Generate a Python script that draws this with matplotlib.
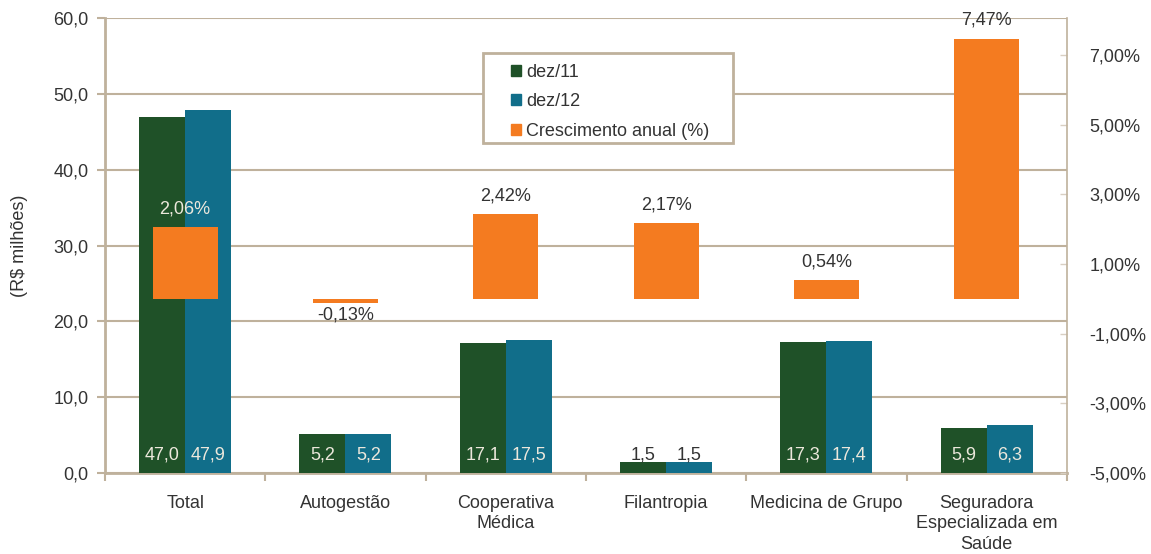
import numpy as np
import matplotlib.pyplot as plt
from matplotlib.patches import Patch, Rectangle
from matplotlib.ticker import FuncFormatter, FixedLocator

plt.rcParams['font.family'] = ['Liberation Sans', 'DejaVu Sans']
plt.rcParams['font.size'] = 13

categorias = ['Total', 'Autogestão', 'Cooperativa\nMédica', 'Filantropia',
              'Medicina de Grupo', 'Seguradora\nEspecializada em\nSaúde']
dez11 = [47.0, 5.2, 17.1, 1.5, 17.3, 5.9]
dez12 = [47.9, 5.2, 17.5, 1.5, 17.4, 6.3]
crescimento = [2.06, -0.13, 2.42, 2.17, 0.54, 7.47]

VERDE = '#1f5128'
AZUL = '#116e8a'
LARANJA = '#f47b20'
BEGE = '#bfb19c'
TEXTO = '#333333'
CLARO = '#ece8dc'

def virgula(v, casas):
    return f'{v:.{casas}f}'.replace('.', ',')

fig = plt.figure(figsize=(11.51, 5.54), dpi=100)
ax = fig.add_axes([0.0912, 0.1462, 0.8358, 0.8213])
ax2 = ax.twinx()

x = np.arange(len(categorias))
w = 0.287

b1 = ax.bar(x - w / 2, dez11, w, color=VERDE, zorder=3)
b2 = ax.bar(x + w / 2, dez12, w, color=AZUL, zorder=3)

for barras, vals in ((b1, dez11), (b2, dez12)):
    for r, v in zip(barras, vals):
        cor = CLARO if v > 3 else TEXTO
        ax.annotate(virgula(v, 1), (r.get_x() + r.get_width() / 2, 0),
                    xytext=(0, 7), textcoords='offset points',
                    ha='center', va='bottom', color=cor, fontsize=13, zorder=4)

ax.set_ylim(0, 60)
ax.set_xlim(-0.5, len(categorias) - 0.5)
ax.set_yticks(np.arange(0, 61, 10))
ax.yaxis.set_major_formatter(FuncFormatter(lambda v, p: virgula(v, 1)))
ax.grid(axis='y', color=BEGE, lw=1.5, zorder=0)
ax.set_axisbelow(True)

ax.set_xticks(x)
ax.set_xticklabels(categorias, color=TEXTO, linespacing=1.25)
ax.xaxis.set_minor_locator(FixedLocator(np.arange(-0.5, len(categorias), 1)))
ax.tick_params(axis='x', which='major', length=0, pad=16)
ax.tick_params(axis='x', which='minor', length=6, width=1.5, color=BEGE)
ax.tick_params(axis='y', length=6, width=1.5, color=BEGE, labelcolor=TEXTO, pad=6)
ax.set_ylabel('(R$ milhões)', color=TEXTO)
ax.yaxis.set_label_coords(-0.080, 0.5)

for lado in ('left', 'bottom'):
    ax.spines[lado].set_color(BEGE)
    ax.spines[lado].set_linewidth(2)
ax.spines['top'].set_visible(False)
ax.spines['right'].set_visible(False)

# eixo secundário: crescimento anual
b3 = ax2.bar(x, crescimento, 0.405, color=LARANJA, zorder=3)
for r, v in zip(b3, crescimento):
    xc = r.get_x() + r.get_width() / 2
    cor = CLARO if v == crescimento[0] else TEXTO
    if v >= 0:
        ax2.annotate(virgula(v, 2) + '%', (xc, v), xytext=(0, 7),
                     textcoords='offset points', ha='center', va='bottom',
                     color=cor, fontsize=13)
    else:
        ax2.annotate(virgula(v, 2) + '%', (xc, v), xytext=(0, -2),
                     textcoords='offset points', ha='center', va='top',
                     color=cor, fontsize=13)

ax2.set_ylim(-5, 8.06)
ax2.set_yticks(np.arange(-5, 8, 2))
ax2.yaxis.set_major_formatter(FuncFormatter(lambda v, p: virgula(v, 2) + '%'))
ax2.tick_params(axis='y', direction='in', length=5, width=1, color='#d8cfc2',
                labelcolor=TEXTO, pad=16)
for lado in ('left', 'bottom', 'top'):
    ax2.spines[lado].set_visible(False)
ax2.spines['right'].set_color(BEGE)
ax2.spines['right'].set_linewidth(1.2)

# legenda com moldura própria
moldura = Rectangle((0.393, 0.725), 0.26, 0.198, transform=ax2.transAxes,
                    facecolor='white', edgecolor=BEGE, lw=2, zorder=6)
ax2.add_patch(moldura)
handles = [Patch(color=VERDE), Patch(color=AZUL), Patch(color=LARANJA)]
leg = ax2.legend(handles, ['dez/11', 'dez/12', 'Crescimento anual (%)'],
                 loc='upper left', bbox_to_anchor=(0.422, 0.899),
                 frameon=False, borderpad=0, borderaxespad=0,
                 handlelength=0.55, handleheight=0.55, handletextpad=0.3,
                 labelspacing=0.68, fontsize=13)
leg.set_zorder(7)
for t in leg.get_texts():
    t.set_color(TEXTO)

fig.savefig('out.png', dpi=100)
